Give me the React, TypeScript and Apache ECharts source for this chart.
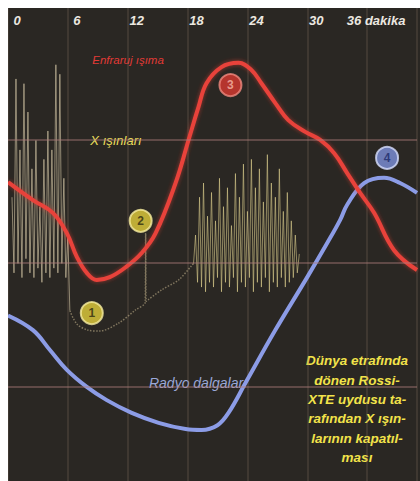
import React, { useEffect, useRef } from "react";
import * as echarts from "echarts";

// Time axis (minutes)
const xTickLabels = ["0", "6", "12", "18", "24", "30", "36 dakika"];

// Infrared (Enfraruj ışıma) curve
const infraredX = [0, 2.5, 4.5, 5.9, 6.9, 7.9, 8.9, 10.2, 11.8, 13.4, 14.8, 16.8, 18.1, 19.1, 19.9, 21.4, 23.1, 24.4, 25.4, 26.8, 28.1, 29.8, 31.3, 32.7, 34.0, 35.3, 36.7, 38.7, 41.0];
const infraredY = [63.2, 59.4, 56.7, 52.4, 47.4, 44.0, 42.5, 43.1, 45.2, 48.2, 52.4, 63.0, 72.1, 79.1, 84.1, 87.5, 88.4, 86.9, 84.1, 79.9, 76.3, 73.8, 72.1, 69.3, 65.1, 60.9, 56.7, 48.8, 44.6];

// Radio (Radyo dalgaları) curve
const radioX = [0, 2.5, 4.2, 5.9, 7.9, 9.9, 12.4, 15.1, 17.8, 19.4, 21.0, 22.1, 23.8, 26.8, 30.0, 32.0, 33.3, 34.0, 35.7, 37.7, 39.3, 41.0];
const radioY = [35.0, 31.9, 27.7, 23.5, 19.9, 17.1, 14.4, 12.3, 11.0, 10.8, 11.8, 14.4, 20.7, 31.9, 43.1, 50.3, 55.2, 58.4, 63.0, 64.1, 63.0, 60.9];

// X-ray (X ışınları) light curve: first burst cluster
const xrayLeftX = [0.4, 0.6, 0.8, 1.0, 1.2, 1.4, 1.6, 1.8, 2.0, 2.2, 2.4, 2.6, 2.8, 3.0, 3.2, 3.4, 3.6, 3.8, 4.0, 4.2, 4.4, 4.6, 4.8, 5.0, 5.2, 5.4, 5.6, 5.8, 6.0, 6.2];
const xrayLeftY = [60, 44, 85, 46, 70, 43, 84, 47, 78, 44, 66, 43, 72, 45, 58, 42, 68, 44, 74, 43, 70, 45, 88, 44, 86, 46, 64, 43, 52, 36];

// X-ray quiet (dim) section
const xrayMidX = [6.2, 6.9, 8.0, 9.2, 11.1, 12.8, 13.75, 13.8, 13.85, 15.4, 17.1, 18.4, 18.6];
const xrayMidY = [36, 33.2, 31.9, 31.7, 33.4, 36.2, 37.8, 52.4, 38.0, 40.4, 42.5, 45.5, 46];

// X-ray second burst cluster
const xrayRightX = [18.6, 18.8, 19.0, 19.2, 19.4, 19.6, 19.8, 20.0, 20.2, 20.4, 20.6, 20.8, 21.0, 21.2, 21.4, 21.6, 21.8, 22.0, 22.2, 22.4, 22.6, 22.8, 23.0, 23.2, 23.4, 23.6, 23.8, 24.0, 24.2, 24.4, 24.6, 24.8, 25.0, 25.2, 25.4, 25.6, 25.8, 26.0, 26.2, 26.4, 26.6, 26.8, 27.0, 27.2, 27.4, 27.6, 27.8, 28.0, 28.2, 28.4, 28.6, 28.8, 29.0, 29.2];
const xrayRightY = [46, 52, 42, 60, 41, 63, 40, 56, 42, 61, 41, 55, 43, 64, 40, 58, 42, 62, 41, 54, 43, 65, 40, 60, 42, 67, 41, 57, 43, 68, 40, 62, 42, 66, 41, 59, 43, 69, 40, 63, 42, 60, 41, 66, 43, 57, 41, 61, 42, 55, 43, 52, 44, 48];

// Numbered markers
const markerX = [8.4, 13.3, 22.3, 38.0];
const markerY = [35.5, 55.0, 83.7, 68.3];
const markerLabels = ["1", "2", "3", "4"];

// Horizontal reference lines
const hGridValues = [19.9, 46.1, 72.1];

const pair = (xs: number[], ys: number[]) => xs.map((x, i) => [x, ys[i]]);

const markerStyles = [
  { fill: "#e4d03c", border: "#f7eea0", text: "#2b2810" },
  { fill: "#e4d03c", border: "#f7eea0", text: "#2b2810" },
  { fill: "#d83a30", border: "#f08a80", text: "#f6b8a8" },
  { fill: "#7e92dc", border: "#d8e0ff", text: "#1c2a6a" },
];

export default function App() {
  const ref = useRef<HTMLDivElement>(null);

  useEffect(() => {
    if (!ref.current) return;
    const chart = echarts.init(ref.current, undefined, { renderer: "svg" });
    const font = "'Liberation Sans', Arial, sans-serif";
    chart.setOption({
      animation: false,
      backgroundColor: "#2a2723",
      grid: { left: 0, right: 0, top: 0, bottom: 0, containLabel: false },
      xAxis: {
        type: "value",
        position: "top",
        min: 0,
        max: 41,
        interval: 6,
        axisLine: { show: false },
        axisTick: { show: false },
        axisLabel: {
          inside: true,
          margin: 6,
          color: "#ece8e0",
          fontSize: 13,
          fontStyle: "italic",
          fontWeight: "bold",
          fontFamily: font,
          align: "center",
          padding: [0, 0, 0, 18],
          formatter: (v: number) => (v % 6 === 0 && v / 6 < xTickLabels.length ? xTickLabels[v / 6] : ""),
        },
        splitLine: { show: true, lineStyle: { color: "rgba(140,115,100,0.3)", width: 1.5 } },
      },
      yAxis: { type: "value", min: 0, max: 100, show: false, splitLine: { show: false } },
      series: [
        {
          type: "line",
          name: "grid",
          data: [[0, 0]],
          symbol: "none",
          silent: true,
          z: 1,
          lineStyle: { opacity: 0 },
          markLine: {
            silent: true,
            symbol: ["none", "none"],
            label: { show: false },
            lineStyle: { color: "rgba(175,125,125,0.55)", width: 1.5, type: "solid" },
            data: hGridValues.map((v) => ({ yAxis: v })),
          },
        },
        {
          type: "line",
          name: "X ışınları 1",
          data: pair(xrayLeftX, xrayLeftY),
          symbol: "none",
          silent: true,
          z: 2,
          lineStyle: { color: "#e8d8b4", width: 1, opacity: 0.55 },
        },
        {
          type: "line",
          name: "X ışınları 2",
          data: pair(xrayMidX, xrayMidY),
          symbol: "none",
          silent: true,
          z: 2,
          smooth: 0.3,
          lineStyle: { color: "#c8b890", width: 1.5, opacity: 0.55, type: "dotted" },
        },
        {
          type: "line",
          name: "X ışınları 3",
          data: pair(xrayRightX, xrayRightY),
          symbol: "none",
          silent: true,
          z: 2,
          lineStyle: { color: "#e8d894", width: 1, opacity: 0.55 },
        },
        {
          type: "line",
          name: "Radyo dalgaları",
          data: pair(radioX, radioY),
          symbol: "none",
          smooth: 0.4,
          silent: true,
          z: 3,
          lineStyle: { color: "#8c9ce6", width: 4 },
        },
        {
          type: "line",
          name: "Enfraruj ışıma",
          data: pair(infraredX, infraredY),
          symbol: "none",
          smooth: 0.4,
          silent: true,
          z: 4,
          lineStyle: { color: "#e8433a", width: 4, shadowBlur: 4, shadowColor: "rgba(230,60,50,0.6)" },
        },
        {
          type: "scatter",
          name: "markers",
          silent: true,
          z: 5,
          symbolSize: 22,
          data: markerX.map((x, i) => ({
            value: [x, markerY[i]],
            name: markerLabels[i],
            itemStyle: { color: markerStyles[i].fill, borderColor: markerStyles[i].border, borderWidth: 2 },
            label: { color: markerStyles[i].text },
          })),
          label: {
            show: true,
            position: "inside",
            formatter: "{b}",
            fontSize: 12,
            fontWeight: "bold",
            fontFamily: font,
          },
        },
      ],
      graphic: [
        {
          type: "text",
          x: 120,
          y: 52,
          style: {
            text: "Enfraruj ışıma",
            fill: "#e23a36",
            font: `italic 11.5px ${font}`,
            textAlign: "center",
            textVerticalAlign: "middle",
          },
        },
        {
          type: "text",
          x: 108,
          y: 132,
          style: {
            text: "X ışınları",
            fill: "#eadf5c",
            font: `italic 13px ${font}`,
            textAlign: "center",
            textVerticalAlign: "middle",
          },
        },
        {
          type: "text",
          x: 190,
          y: 375,
          style: {
            text: "Radyo dalgaları",
            fill: "#9aa8d8",
            font: `italic 14px ${font}`,
            textAlign: "center",
            textVerticalAlign: "middle",
          },
        },
        {
          type: "text",
          x: 349,
          y: 343,
          style: {
            text: "Dünya etrafında\ndönen Rossi-\nXTE uydusu ta-\nrafından X ışın-\nlarının kapatıl-\nması",
            fill: "#f2e34a",
            font: `italic bold 13.5px ${font}`,
            lineHeight: 19.4,
            textAlign: "center",
            textVerticalAlign: "top",
          },
        },
      ],
    });
    return () => chart.dispose();
  }, []);

  return (
    <div
      ref={ref}
      style={{ position: "fixed", left: 8, top: 8, width: 412, height: 473 }}
    />
  );
}
